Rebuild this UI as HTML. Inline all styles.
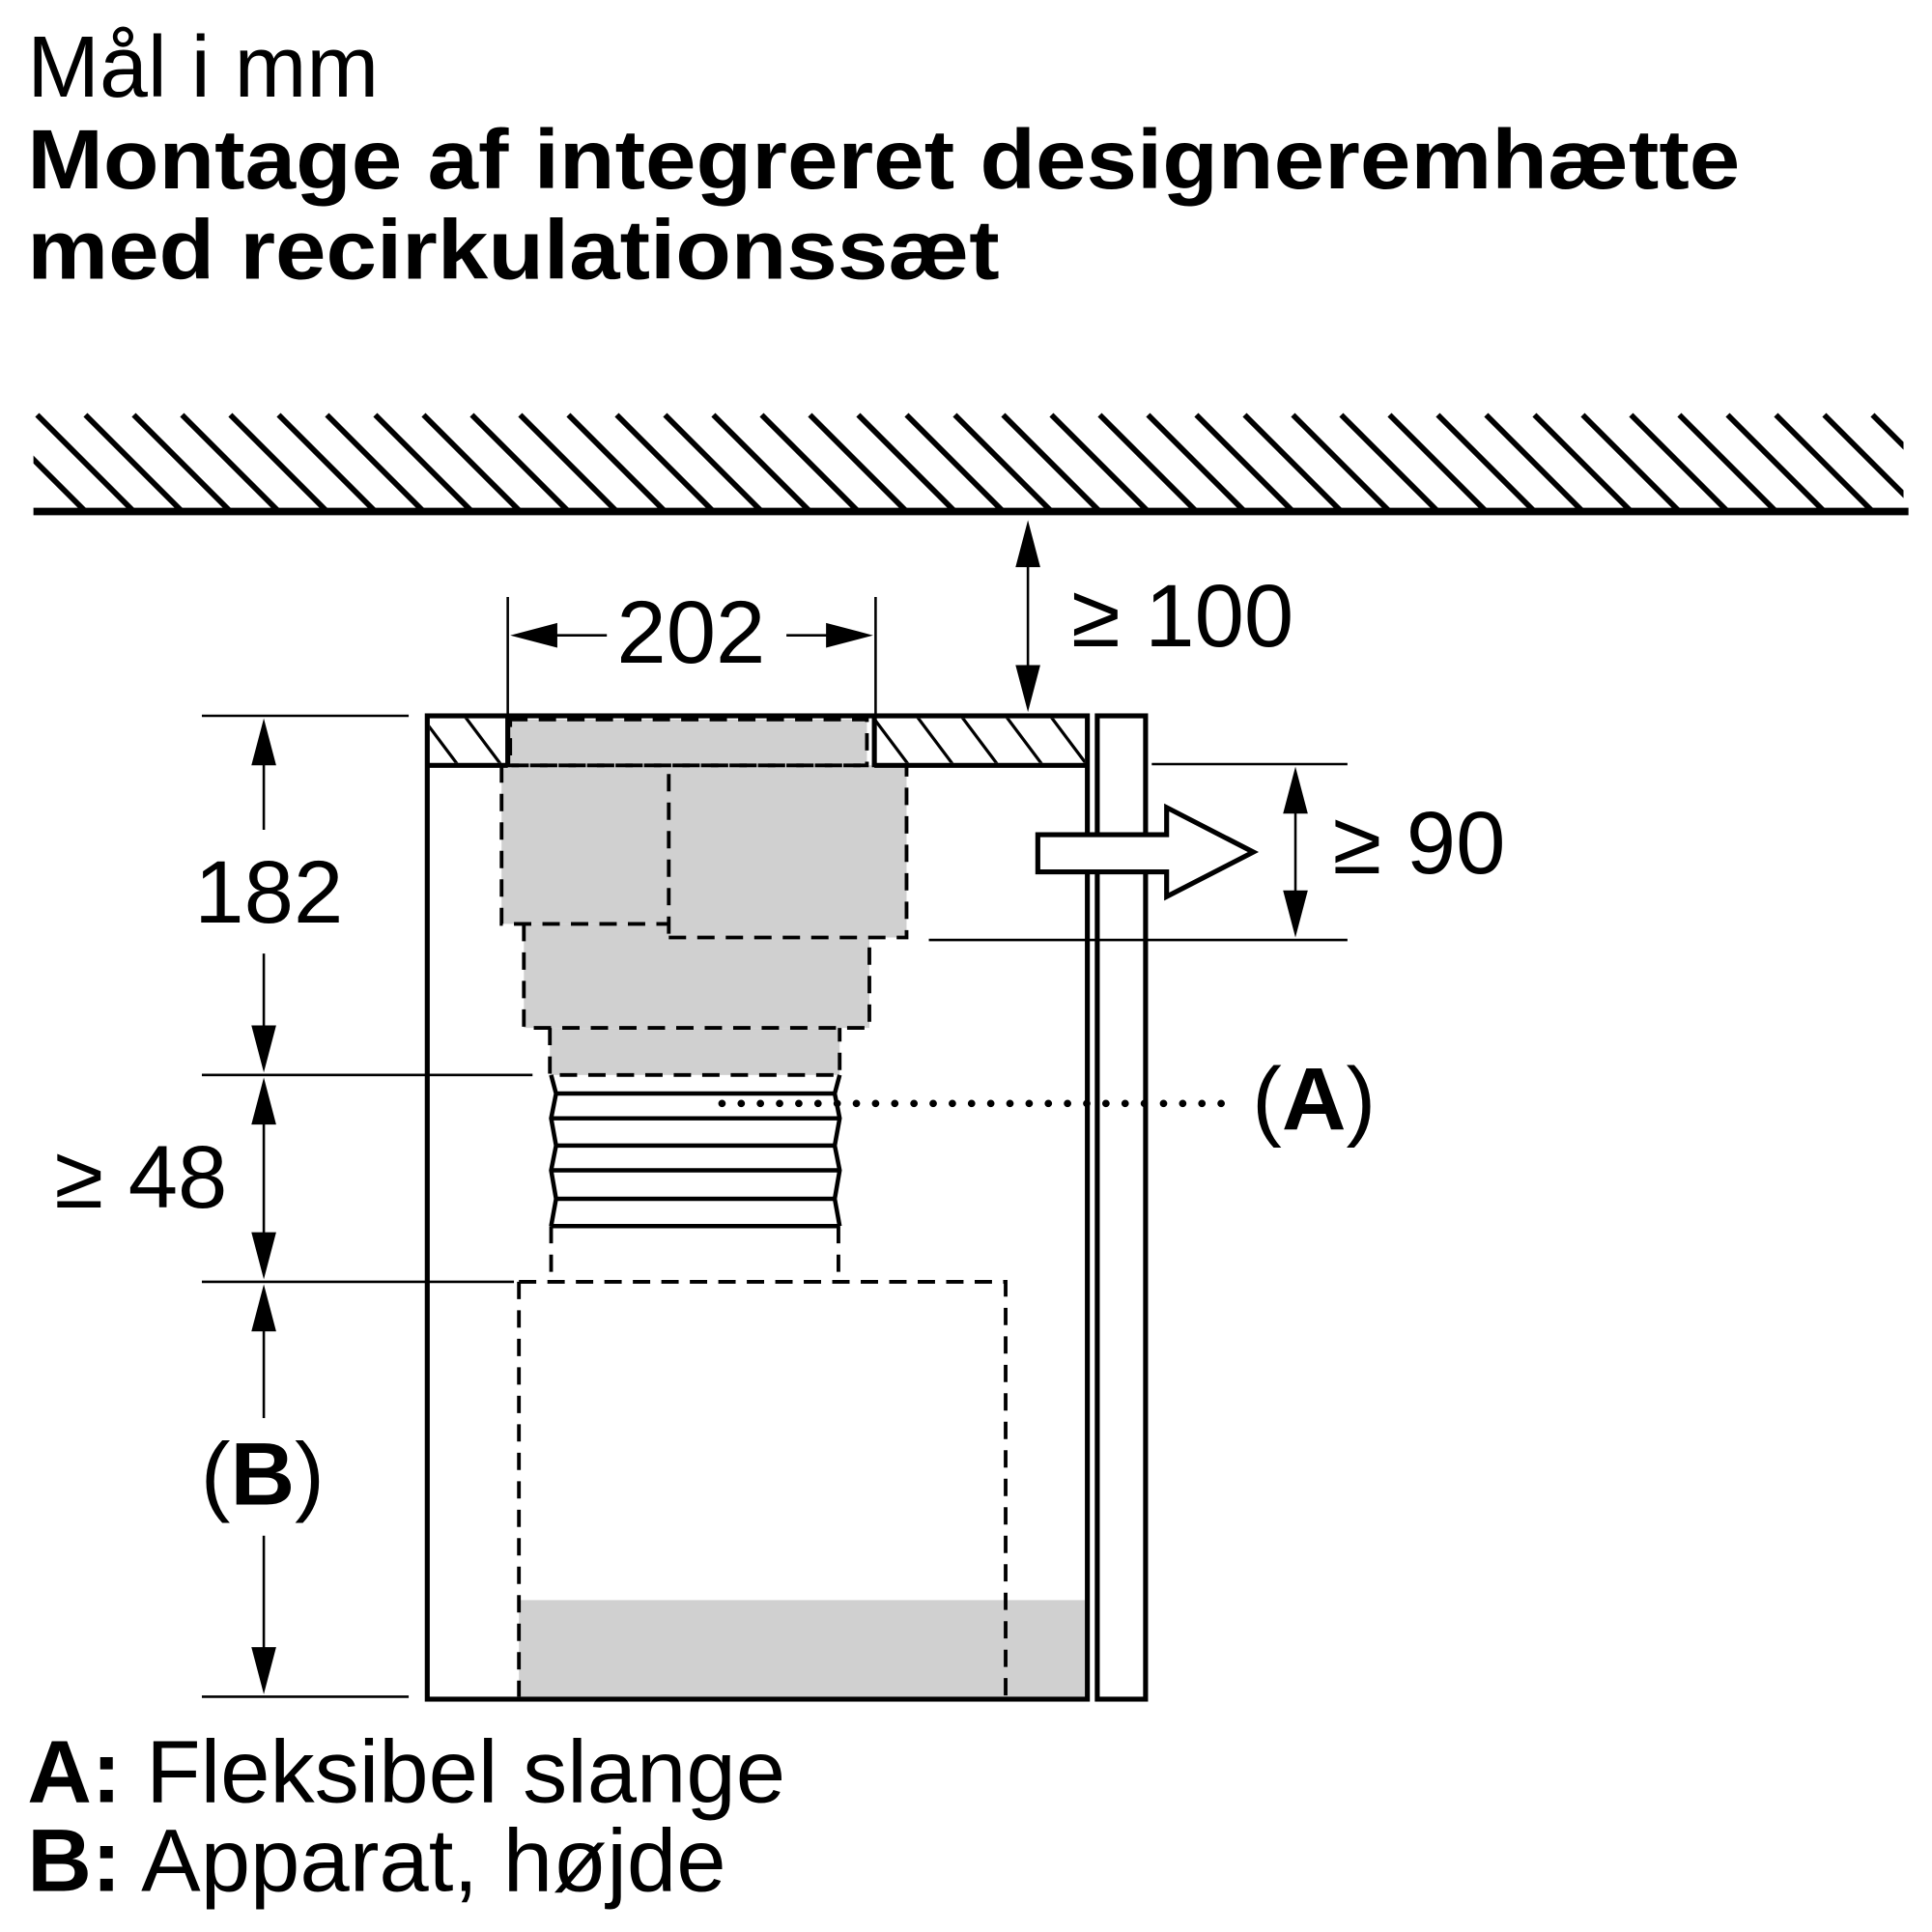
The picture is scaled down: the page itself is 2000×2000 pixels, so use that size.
<!DOCTYPE html>
<html><head><meta charset="utf-8"><style>html,body{margin:0;padding:0;background:#fff}svg{display:block}</style></head>
<body>
<svg width="2000" height="2000" viewBox="0 0 1560 1560" xmlns="http://www.w3.org/2000/svg" font-family="Liberation Sans, sans-serif">
<defs>
<clipPath id="hc"><rect x="27" y="333" width="1510" height="78"/></clipPath>
<clipPath id="tc1"><rect x="347" y="580" width="63" height="36"/></clipPath>
<clipPath id="tc2"><rect x="706" y="580" width="170" height="36"/></clipPath>
</defs>
<g fill="#000">
<text x="22" y="78" font-size="70">Mål i mm</text>
<text x="22" y="152" font-size="68" font-weight="bold" textLength="1383" lengthAdjust="spacingAndGlyphs">Montage af integreret designeremhætte</text>
<text x="22" y="225" font-size="68" font-weight="bold" textLength="785" lengthAdjust="spacingAndGlyphs">med recirkulationssæt</text>
</g>
<g clip-path="url(#hc)" stroke="#000" stroke-width="4.5">
<path d="M-9 335 L69 413 M30 335 L108 413 M69 335 L147 413 M108 335 L186 413 M147 335 L225 413 M186 335 L264 413 M225 335 L303 413 M264 335 L342 413 M303 335 L381 413 M342 335 L420 413 M381 335 L459 413 M420 335 L498 413 M459 335 L537 413 M498 335 L576 413 M537 335 L615 413 M576 335 L654 413 M615 335 L693 413 M654 335 L732 413 M693 335 L771 413 M732 335 L810 413 M771 335 L849 413 M810 335 L888 413 M849 335 L927 413 M888 335 L966 413 M927 335 L1005 413 M966 335 L1044 413 M1005 335 L1083 413 M1044 335 L1122 413 M1083 335 L1161 413 M1122 335 L1200 413 M1161 335 L1239 413 M1200 335 L1278 413 M1239 335 L1317 413 M1278 335 L1356 413 M1317 335 L1395 413 M1356 335 L1434 413 M1395 335 L1473 413 M1434 335 L1512 413 M1473 335 L1551 413 M1512 335 L1590 413"/>
</g>
<line x1="27" y1="413" x2="1541" y2="413" stroke="#000" stroke-width="6"/>
<g fill="#d0d0d0">
<rect x="412" y="581" width="288" height="37"/>
<rect x="405" y="618" width="327" height="128"/>
<rect x="540" y="618" width="192" height="139"/>
<rect x="423" y="746" width="279" height="84"/>
<rect x="444" y="830" width="234" height="38"/>
<rect x="419" y="1292" width="457" height="78"/>
</g>
<g fill="none" stroke="#000" stroke-width="3" stroke-dasharray="14 9">
<rect x="412" y="581" width="288" height="37"/>
<path d="M405 618 H732 V757 H540 M540 625 V757 M405 618 V746 H540 M423 746 V830 H702 V757 M444 830 V868 H678 V830"/>
<path d="M445 990 V1035 M677 990 V1035"/>
<path d="M419 1035 H812 V1370 M419 1035 V1370"/>
</g>
<g fill="none" stroke="#000" stroke-width="3.5">
<path d="M445 868 L449 883 L445 903 L449 925 L445 945 L449 968 L445 990"/>
<path d="M678 868 L674 883 L678 903 L674 925 L678 945 L674 968 L678 990"/>
<path d="M449 883 H674 M445 903 H678 M449 925 H674 M445 945 H678 M449 968 H674 M445 990 H678"/>
</g>
<g fill="none" stroke="#000" stroke-width="4">
<rect x="345" y="578" width="533" height="794"/>
<line x1="345" y1="618" x2="410" y2="618"/>
<line x1="706" y1="618" x2="878" y2="618"/>
<line x1="410" y1="578" x2="410" y2="618"/>
<line x1="706" y1="578" x2="706" y2="618"/>
<rect x="886" y="578" width="39" height="794"/>
</g>
<g stroke="#000" stroke-width="2.5" clip-path="url(#tc1)">
<path d="M340 578 L370 618 M375 578 L405 618 M410 578 L440 618"/>
</g>
<g stroke="#000" stroke-width="2.5" clip-path="url(#tc2)">
<path d="M704 578 L734 618 M740 578 L770 618 M776 578 L806 618 M812 578 L842 618 M848 578 L878 618"/>
</g>
<path d="M838 674 H942 V652 L1012 688 L942 724 V704 H838 Z" fill="#fff" stroke="#000" stroke-width="4"/>
<g stroke="#000" stroke-width="2">
<line x1="410" y1="482" x2="410" y2="578"/>
<line x1="707" y1="482" x2="707" y2="578"/>
<line x1="440" y1="513" x2="490" y2="513"/>
<line x1="635" y1="513" x2="680" y2="513"/>
<line x1="830" y1="450" x2="830" y2="545"/>
<line x1="163" y1="578" x2="330" y2="578"/>
<line x1="163" y1="868" x2="430" y2="868"/>
<line x1="163" y1="1035" x2="415" y2="1035"/>
<line x1="163" y1="1370" x2="330" y2="1370"/>
<line x1="213" y1="610" x2="213" y2="670"/>
<line x1="213" y1="770" x2="213" y2="835"/>
<line x1="213" y1="900" x2="213" y2="1003"/>
<line x1="213" y1="1068" x2="213" y2="1145"/>
<line x1="213" y1="1240" x2="213" y2="1335"/>
<line x1="930" y1="617" x2="1088" y2="617"/>
<line x1="750" y1="759" x2="1088" y2="759"/>
<line x1="1046" y1="650" x2="1046" y2="726"/>
</g>
<g fill="#000">
<path d="M412 513 L450 503 L450 523 Z"/>
<path d="M705 513 L667 503 L667 523 Z"/>
<path d="M830 420 L820 458 L840 458 Z"/>
<path d="M830 575 L820 537 L840 537 Z"/>
<path d="M213 580 L203 618 L223 618 Z"/>
<path d="M213 866 L203 828 L223 828 Z"/>
<path d="M213 870 L203 908 L223 908 Z"/>
<path d="M213 1033 L203 995 L223 995 Z"/>
<path d="M213 1037 L203 1075 L223 1075 Z"/>
<path d="M213 1368 L203 1330 L223 1330 Z"/>
<path d="M1046 619 L1036 657 L1056 657 Z"/>
<path d="M1046 757 L1036 719 L1056 719 Z"/>
</g>
<line x1="583" y1="891" x2="995" y2="891" stroke="#000" stroke-width="6" stroke-linecap="round" stroke-dasharray="0 15.5"/>
<g fill="#000" font-size="72">
<text x="558" y="535" text-anchor="middle">202</text>
<text x="865" y="522">≥ 100</text>
<text x="157" y="745">182</text>
<text x="44" y="975">≥ 48</text>
<text x="1076" y="705">≥ 90</text>
<text x="162" y="1215">(<tspan font-weight="bold">B</tspan>)</text>
<text x="1011" y="912">(<tspan font-weight="bold">A</tspan>)</text>
</g>
<g fill="#000" font-size="72">
<text x="22" y="1455"><tspan font-weight="bold">A:</tspan> Fleksibel slange</text>
<text x="22" y="1527"><tspan font-weight="bold">B:</tspan> Apparat, højde</text>
</g>
</svg>
</body></html>
